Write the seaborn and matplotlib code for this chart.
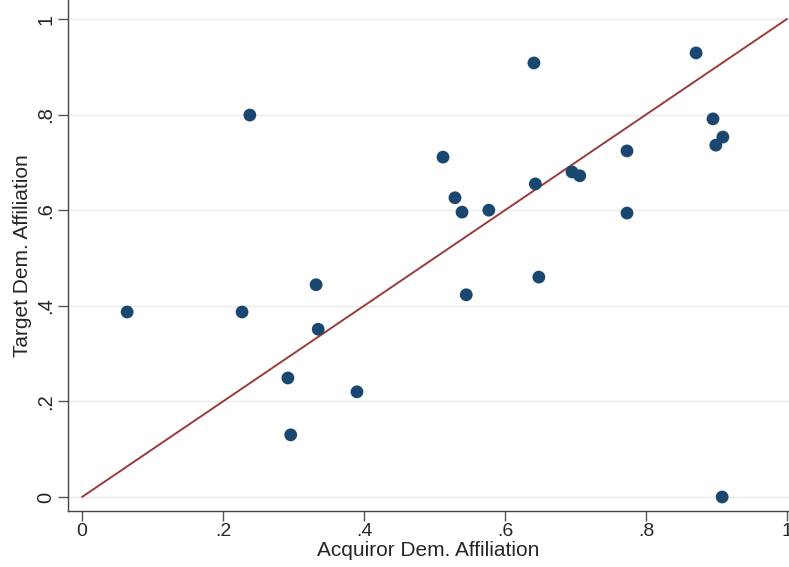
import matplotlib.pyplot as plt
import seaborn as sns
import pandas as pd

# acquiror vs target democratic affiliation
acq = [0.064, 0.227, 0.238, 0.292, 0.296, 0.332, 0.335, 0.390, 0.512, 0.529,
       0.539, 0.545, 0.577, 0.641, 0.643, 0.648, 0.695, 0.706, 0.773, 0.773,
       0.871, 0.895, 0.899, 0.909, 0.908]
tgt = [0.387, 0.387, 0.799, 0.249, 0.130, 0.444, 0.351, 0.220, 0.711, 0.626,
       0.596, 0.423, 0.600, 0.908, 0.655, 0.460, 0.680, 0.672, 0.724, 0.594,
       0.929, 0.791, 0.736, 0.753, 0.000]
line_x = [0, 1]
ticks = [0, 0.2, 0.4, 0.6, 0.8, 1]
tick_labels = ["0", ".2", ".4", ".6", ".8", "1"]

df = pd.DataFrame({"acq": acq, "tgt": tgt})

sns.set_style("white")
plt.rcParams['font.family'] = ['Liberation Sans', 'DejaVu Sans']

fig = plt.figure(figsize=(7.89, 5.67), dpi=100)
ax = fig.add_axes([68 / 789, 1 - 511 / 567, 1 - 68 / 789, 511 / 567])

ax.grid(axis="y", color="#eaeaea", linewidth=1)
ax.set_axisbelow(True)
ax.plot(line_x, line_x, color="#9b3a3c", linewidth=1.4, zorder=2)
sns.scatterplot(data=df, x="acq", y="tgt", ax=ax, color="#1a476f", s=85,
                edgecolor="none", zorder=3)

ax.set_xlim(-0.0199, 1.0028)
ax.set_ylim(-0.0293, 1.0397)
ax.set_xticks(ticks)
ax.set_xticklabels(tick_labels, fontsize=14)
ax.set_yticks(ticks)
ax.set_yticklabels(tick_labels, fontsize=14.5, rotation=90, va="center")
ax.tick_params(axis="both", direction="out", length=7, width=1, color="#555555",
               left=True, bottom=True, pad=2)
ax.set_xlabel("Acquiror Dem. Affiliation", fontsize=15, labelpad=0)
ax.set_ylabel("Target Dem. Affiliation", fontsize=15, labelpad=3)

sns.despine(ax=ax, top=True, right=True)
for sp in ["left", "bottom"]:
    ax.spines[sp].set_color("#444444")
    ax.spines[sp].set_linewidth(1)

plt.savefig("out.png", dpi=100)
